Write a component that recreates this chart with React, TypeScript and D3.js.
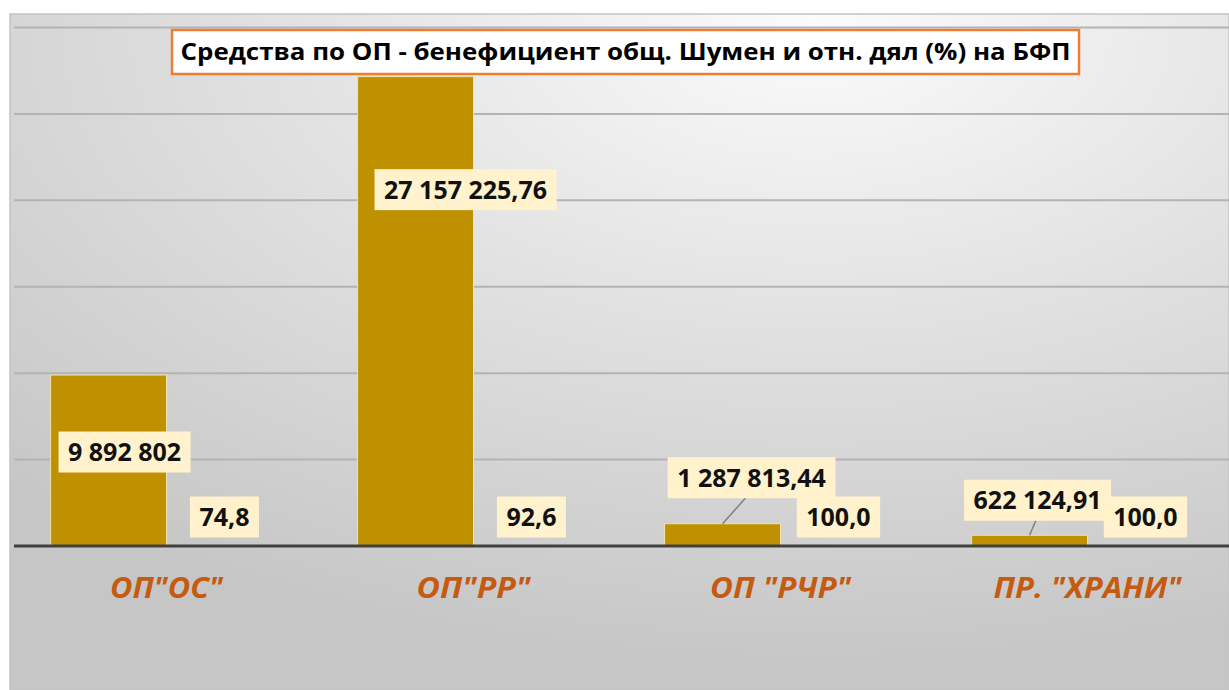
import React, { useMemo } from "react";
import * as d3 from "d3";

const categories = ['ОП"ОС"', 'ОП"РР"', 'ОП "РЧР"', 'ПР. "ХРАНИ"'];
const amounts = [9892802, 27157225.76, 1287813.44, 622124.91];
const amountLabels = ["9 892 802", "27 157 225,76", "1 287 813,44", "622 124,91"];
const shares = [74.8, 92.6, 100.0, 100.0];
const shareLabels = ["74,8", "92,6", "100,0", "100,0"];
const yTicks = [0, 5e6, 10e6, 15e6, 20e6, 25e6, 30e6];
const title = "Средства по ОП - бенефициент общ. Шумен и отн. дял (%) на БФП";

// manual label placement (offsets from bar top centre), like dragged Excel labels
const amountLabelOffsets = [
  { dx: 16, dy: 77, leader: false },
  { dx: 50, dy: 113, leader: false },
  { dx: 29, dy: -46, leader: true },
  { dx: 8, dy: -35, leader: true },
];

const W = 1229;
const H = 690;
const LABEL_FS = 25;
const LABEL_FONT = `bold ${LABEL_FS}px 'Open Sans'`;

function measure(text: string, font: string): number {
  if (typeof document === "undefined") return text.length * 13;
  const c = document.createElement("canvas");
  const ctx = c.getContext("2d");
  if (!ctx) return text.length * 13;
  ctx.font = font;
  return ctx.measureText(text).width;
}

function LabelBox({ cx, cy, text }: { cx: number; cy: number; text: string }) {
  const tw = measure(text, LABEL_FONT) * 1.0;
  const bw = tw + 19;
  const bh = 41;
  return (
    <g>
      <rect x={cx - bw / 2} y={cy - bh / 2} width={bw} height={bh} fill="#FFF2CC" />
      <text
        x={cx}
        y={cy + 9}
        textAnchor="middle"
        fontFamily="'Open Sans', sans-serif"
        fontWeight="bold"
        fontSize={LABEL_FS}
        fill="#111"
        textLength={tw}
        lengthAdjust="spacingAndGlyphs"
      >
        {text}
      </text>
    </g>
  );
}

export default function App() {
  const x0 = useMemo(
    () => d3.scaleBand<string>().domain(categories).range([13, 1241]).paddingInner(0.245).paddingOuter(0.1225),
    []
  );
  const x1 = useMemo(
    () => d3.scaleBand<string>().domain(["amount", "share"]).range([0, x0.bandwidth()]).padding(0),
    [x0]
  );
  const y = useMemo(() => d3.scaleLinear().domain([0, 30e6]).range([546, 27.5]), []);

  const catWidths = [113, 114, 141, 188];

  return (
    <svg
      width={W}
      height={H}
      style={{ position: "absolute", left: 0, top: 0, display: "block" }}
      xmlns="http://www.w3.org/2000/svg"
    >
      <defs>
        <radialGradient id="bg" cx="0.66" cy="0.02" r="0.95" fx="0.66" fy="0.02">
          <stop offset="0" stopColor="#fbfbfb" />
          <stop offset="0.45" stopColor="#e2e2e2" />
          <stop offset="1" stopColor="#c6c6c6" />
        </radialGradient>
      </defs>
      <rect x={0} y={0} width={W} height={H} fill="#ffffff" />
      <rect x={10} y={14} width={W - 10} height={H - 14} fill="url(#bg)" stroke="#c4c4c4" strokeWidth={1.5} />

      {/* gridlines */}
      {yTicks.slice(1).map((t) => (
        <line key={t} x1={14} x2={W} y1={y(t)} y2={y(t)} stroke="#b3b3b3" strokeWidth={2} />
      ))}

      {/* bars */}
      {categories.map((c, i) => {
        const bx = (x0(c) ?? 0) + (x1("amount") ?? 0);
        const top = y(amounts[i]);
        return (
          <rect
            key={"a" + c}
            x={bx}
            y={top}
            width={x1.bandwidth()}
            height={y(0) - top}
            fill="#BF9000"
            stroke="#f1e2b0"
            strokeWidth={1}
          />
        );
      })}
      {categories.map((c, i) => {
        const bx = (x0(c) ?? 0) + (x1("share") ?? 0);
        const top = y(shares[i]);
        return (
          <rect key={"s" + c} x={bx} y={top} width={x1.bandwidth()} height={Math.max(0, y(0) - top)} fill="#BF9000" />
        );
      })}

      {/* baseline */}
      <line x1={14} x2={W} y1={y(0)} y2={y(0)} stroke="#404040" strokeWidth={3} />

      {/* leader lines */}
      {categories.map((c, i) => {
        const o = amountLabelOffsets[i];
        if (!o.leader) return null;
        const cx = (x0(c) ?? 0) + (x1("amount") ?? 0) + x1.bandwidth() / 2;
        const top = y(amounts[i]);
        return (
          <line
            key={"l" + c}
            x1={cx}
            y1={top}
            x2={cx + o.dx * 0.8}
            y2={top + o.dy + 20}
            stroke="#7f7f7f"
            strokeWidth={1.5}
          />
        );
      })}

      {/* share labels */}
      {categories.map((c, i) => {
        const cx = (x0(c) ?? 0) + (x1("share") ?? 0) + x1.bandwidth() / 2;
        return <LabelBox key={"sl" + c} cx={cx} cy={y(shares[i]) - 29} text={shareLabels[i]} />;
      })}

      {/* amount labels */}
      {categories.map((c, i) => {
        const o = amountLabelOffsets[i];
        const cx = (x0(c) ?? 0) + (x1("amount") ?? 0) + x1.bandwidth() / 2;
        return <LabelBox key={"al" + c} cx={cx + o.dx} cy={y(amounts[i]) + o.dy} text={amountLabels[i]} />;
      })}

      {/* category labels */}
      {categories.map((c, i) => (
        <text
          key={"c" + c}
          x={(x0(c) ?? 0) + x0.bandwidth() / 2}
          y={598}
          textAnchor="middle"
          fontFamily="'Open Sans', sans-serif"
          fontWeight="bold"
          fontStyle="italic"
          fontSize={29}
          fill="#C55A11"
          textLength={catWidths[i]}
          lengthAdjust="spacingAndGlyphs"
        >
          {c}
        </text>
      ))}

      {/* title */}
      <rect x={172} y={30} width={907} height={44} fill="#ffffff" stroke="#ED7D31" strokeWidth={2.5} />
      <text
        x={625.5}
        y={60}
        textAnchor="middle"
        fontFamily="'Open Sans', sans-serif"
        fontWeight="bold"
        fontSize={23}
        fill="#000"
        textLength={890}
        lengthAdjust="spacingAndGlyphs"
      >
        {title}
      </text>
    </svg>
  );
}
